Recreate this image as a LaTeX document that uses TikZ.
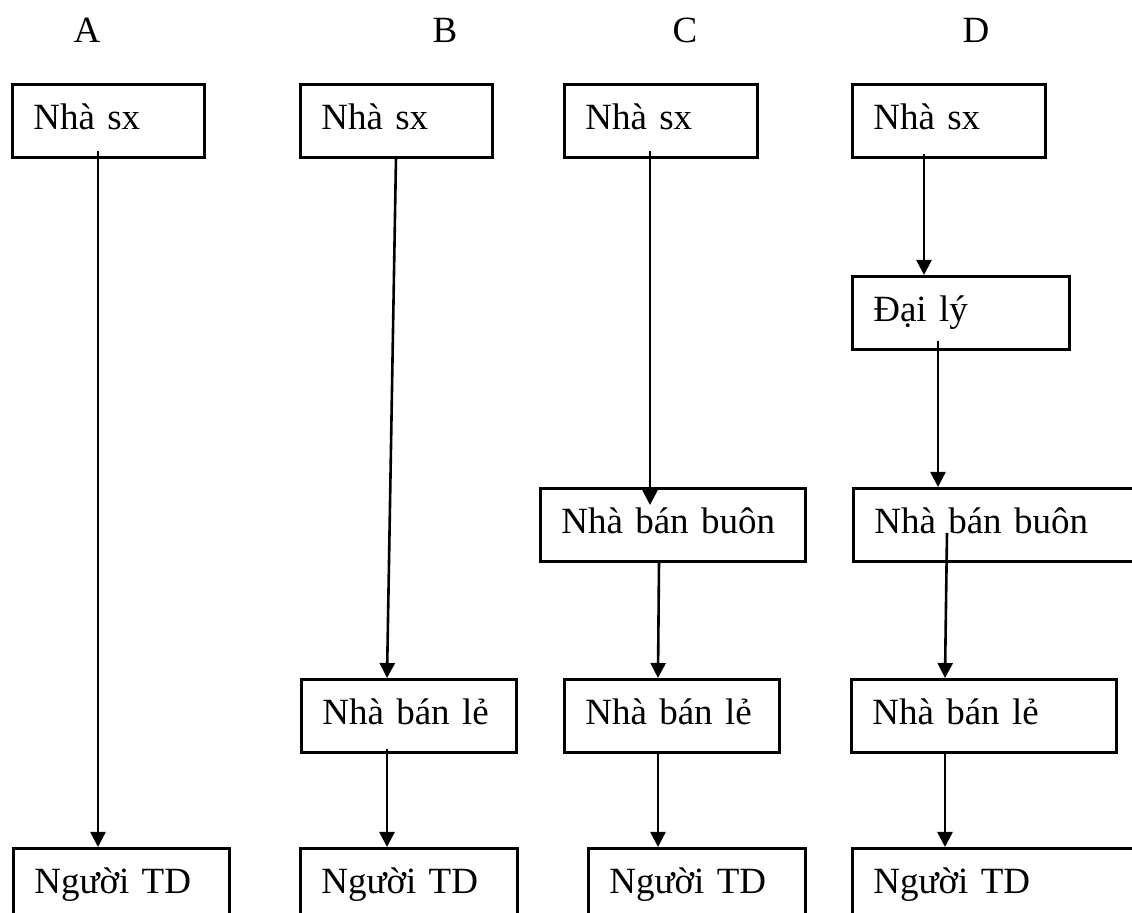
\documentclass[tikz,border=0pt]{standalone}
\usepackage{fontspec}
\setmainfont{Liberation Serif}
\usetikzlibrary{arrows.meta}

\tikzset{
  box/.style={draw, rectangle, anchor=north west, inner xsep=10.5pt, inner ysep=0pt,
    text height=22.75pt, text depth=13.75pt, align=left,
    font=\fontsize{18.5pt}{22pt}\selectfont},
  head/.style={anchor=base, font=\fontsize{18.5pt}{22pt}\selectfont}
}

\begin{document}
\begin{tikzpicture}[x=0.5pt, y=-0.5pt, ->, >={Triangle[length=7.5pt, width=7.5pt]}, line width=1.3pt]
        \useasboundingbox (0,0) rectangle (1132,913);
        \clip (0,0) rectangle (1132,913);

        \node (hA) at (87,43) [head] {A};
        \node (hB) at (445,43) [head] {B};
        \node (hC) at (685,43) [head] {C};
        \node (hD) at (976,43) [head] {D};

        \node (Asx) at (11,83) [box, text width=75pt] {Nhà sx};
        \node (ATD) at (12,847) [box, text width=87pt] {Người TD};

        \node (Bsx) at (299,83) [box, text width=75pt] {Nhà sx};
        \node (Bbl) at (300,678) [box, text width=86.5pt] {Nhà bán lẻ};
        \node (BTD) at (299,847) [box, text width=87.5pt] {Người TD};

        \node (Csx) at (563,83) [box, text width=75.5pt] {Nhà sx};
        \node (Cbb) at (539,487) [box, text width=111.5pt] {Nhà bán buôn};
        \node (Cbl) at (563,678) [box, text width=86.5pt] {Nhà bán lẻ};
        \node (CTD) at (587,847) [box, text width=87.5pt] {Người TD};

        \node (Dsx) at (851,83) [box, text width=75.5pt] {Nhà sx};
        \node (Ddl) at (851,275) [box, text width=87.5pt] {Đại lý};
        \node (Dbb) at (852,487) [box, text width=124pt] {Nhà bán buôn};
        \node (Dbl) at (850,678) [box, text width=111.5pt] {Nhà bán lẻ};
        \node (DTD) at (851,847) [box, text width=124pt] {Người TD};

        \path
            ([shift={(87,-8)}]Asx.south west) edge ([shift={(86,0)}]ATD.north west)
            ([shift={(97,-1)}]Bsx.south west) edge ([shift={(87,0)}]Bbl.north west)
            ([shift={(87,-5)}]Bbl.south west) edge ([shift={(88,0)}]BTD.north west)
            ([shift={(87,-8)}]Csx.south west) edge ([shift={(111,18)}]Cbb.north west)
            ([shift={(120,0)}]Cbb.south west) edge ([shift={(95,0)}]Cbl.north west)
            ([shift={(95,0)}]Cbl.south west) edge ([shift={(71,0)}]CTD.north west)
            ([shift={(73,-5)}]Dsx.south west) edge ([shift={(73,0)}]Ddl.north west)
            ([shift={(87,-10)}]Ddl.south west) edge ([shift={(86,0)}]Dbb.north west)
            ([shift={(95,46)}]Dbb.north west) edge ([shift={(95,0)}]Dbl.north west)
            ([shift={(95,0)}]Dbl.south west) edge ([shift={(94,0)}]DTD.north west);
    \end{tikzpicture}
\end{document}
